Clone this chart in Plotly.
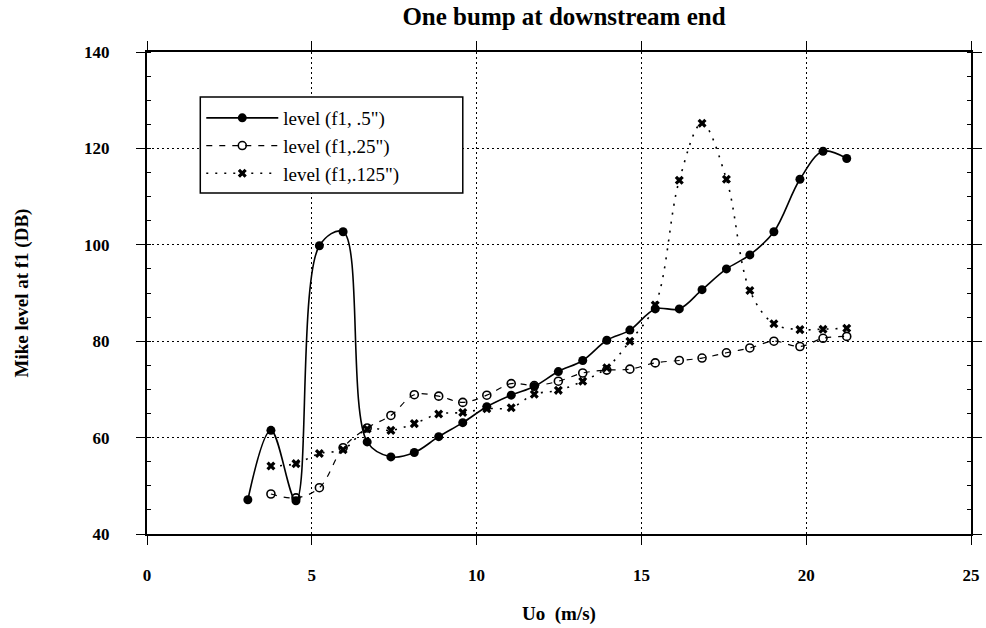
import plotly.graph_objects as go

# ---- data ----
u_solid = [3.06, 3.76, 4.52, 5.23, 5.95, 6.68, 7.40, 8.11, 8.85, 9.58, 10.31, 11.05, 11.75,
           12.48, 13.22, 13.95, 14.65, 15.42, 16.15, 16.84, 17.58, 18.29, 19.02, 19.81, 20.51, 21.23]
lvl_solid = [47.1, 61.5, 46.9, 99.8, 102.7, 59.1, 56.0, 56.9, 60.2, 63.1, 66.4, 68.8, 70.6,
             73.7, 76.0, 80.2, 82.3, 86.7, 86.7, 90.7, 95.0, 97.9, 102.7, 113.6, 119.4, 117.9]

u_circ = [3.76, 4.52, 5.23, 5.95, 6.68, 7.40, 8.11, 8.85, 9.58, 10.31, 11.05, 11.75,
          12.48, 13.22, 13.95, 14.65, 15.42, 16.15, 16.84, 17.58, 18.29, 19.02, 19.81, 20.51, 21.23]
lvl_circ = [48.3, 47.5, 49.6, 57.9, 62.0, 64.6, 68.9, 68.6, 67.3, 68.8, 71.2, 70.8,
            71.7, 73.4, 74.0, 74.2, 75.5, 76.0, 76.5, 77.6, 78.6, 80.0, 78.9, 80.6, 81.0]

u_x = [3.76, 4.52, 5.23, 5.95, 6.68, 7.40, 8.11, 8.85, 9.58, 10.31, 11.05, 11.75,
       12.48, 13.22, 13.95, 14.65, 15.42, 16.15, 16.84, 17.58, 18.29, 19.02, 19.81, 20.51, 21.23]
lvl_x = [54.1, 54.6, 56.7, 57.5, 61.8, 61.5, 62.9, 64.9, 65.2, 66.0, 66.2, 69.0,
         69.8, 71.7, 74.5, 80.0, 87.5, 113.4, 125.2, 113.6, 90.5, 83.6, 82.4, 82.5, 82.7]

names = ['level (f1, .5")', 'level (f1,.25")', 'level (f1,.125")']
x_ticks = [0, 5, 10, 15, 20, 25]
y_ticks = [40, 60, 80, 100, 120, 140]

SERIF = "Liberation Serif"

fig = go.Figure()
fig.add_trace(go.Scatter(
    x=u_solid, y=lvl_solid, name=names[0], legendgroup="a", mode="lines+markers",
    line=dict(color="black", width=1.6, shape="spline", smoothing=1.0),
    marker=dict(symbol="circle", size=9, color="black")))
fig.add_trace(go.Scatter(
    x=u_circ, y=lvl_circ, name=names[1], legendgroup="b", mode="lines+markers",
    line=dict(color="black", width=1.2, dash="6px,7px", shape="spline", smoothing=1.0),
    marker=dict(symbol="circle-open", size=8, color="black", line=dict(width=1.6))))
fig.add_trace(go.Scatter(
    x=u_x, y=lvl_x, name=names[2], legendgroup="c", mode="lines+markers",
    line=dict(color="black", width=1.6, dash="2px,7px", shape="spline", smoothing=1.0),
    marker=dict(symbol="x", size=8, color="black")))

axis_common = dict(
    showline=True, linecolor="black", linewidth=2, mirror="allticks",
    ticks="outside", ticklen=9, tickwidth=1.2, tickcolor="black",
    showgrid=True, gridcolor="black", gridwidth=1, griddash="2px,3px",
    zeroline=False,
    tickfont=dict(family=SERIF, size=17, color="black", weight="bold"),
)

fig.update_xaxes(
    range=[0, 25], tickvals=x_ticks, ticktext=[str(v) for v in x_ticks],
    ticklabelstandoff=16,
    title=dict(text="Uo  (m/s)", font=dict(family=SERIF, size=19, color="black", weight="bold"),
               standoff=22),
    **axis_common)
fig.update_yaxes(
    range=[40, 140], tickvals=y_ticks, ticktext=[str(v) for v in y_ticks],
    ticklabelstandoff=23,
    minor=dict(ticks="inside", dtick=5, ticklen=4, tickcolor="black", showgrid=False),
    title=dict(text="Mike level at f1 (DB)", font=dict(family=SERIF, size=19, color="black", weight="bold"),
               standoff=50),
    **axis_common)

# legend frame (plot area spans 147..982 px horizontally, 52..534 px vertically)
plot_l, plot_r, plot_t, plot_b = 147, 982, 52, 534
def px_to_paper_x(px):
    return (px - plot_l) / (plot_r - plot_l)
def px_to_paper_y(py):
    return (plot_b - py) / (plot_b - plot_t)

fig.add_shape(type="rect", xref="paper", yref="paper",
              x0=px_to_paper_x(201), x1=px_to_paper_x(467),
              y0=px_to_paper_y(193), y1=px_to_paper_y(97),
              fillcolor="white", line=dict(color="black", width=1.5), layer="above")

fig.update_layout(
    width=986, height=628,
    margin=dict(l=plot_l, r=986 - plot_r, t=plot_t, b=628 - plot_b),
    paper_bgcolor="white", plot_bgcolor="white",
    title=dict(text="One bump at downstream end", x=0.572, xanchor="center",
               y=1 - 16 / 628, yanchor="middle", yref="container",
               font=dict(family=SERIF, size=25, color="black", weight="bold")),
    showlegend=True,
    legend=dict(x=px_to_paper_x(202), y=px_to_paper_y(99), xanchor="left", yanchor="top",
                bgcolor="rgba(0,0,0,0)", borderwidth=0,
                font=dict(family=SERIF, size=19, color="black"),
                tracegroupgap=0, itemwidth=72),
)

fig.write_html("out.html")
